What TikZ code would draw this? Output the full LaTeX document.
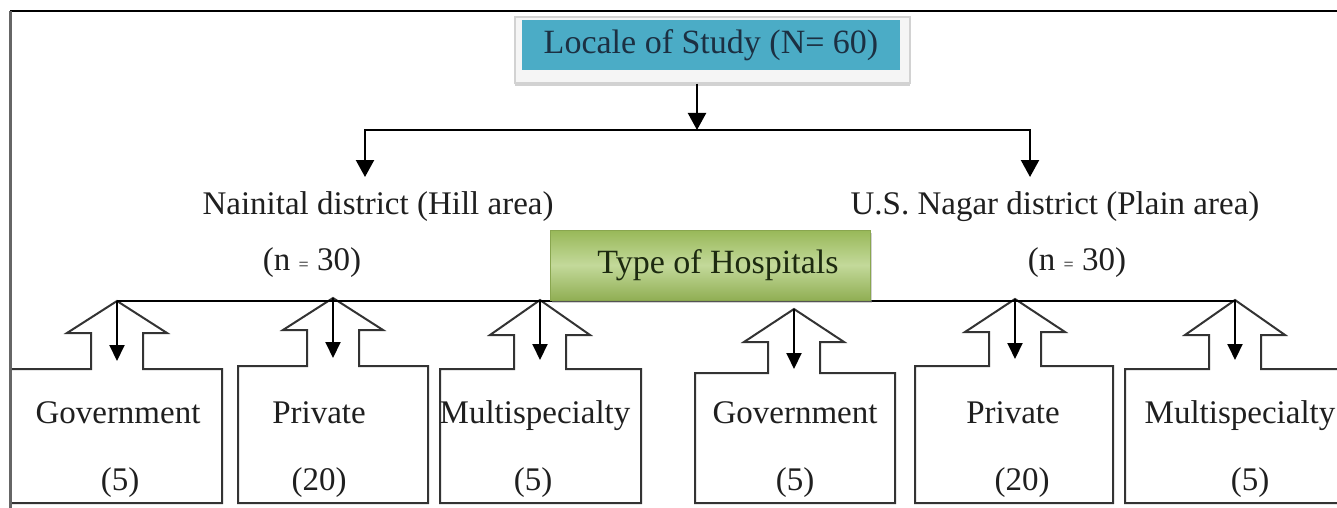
\documentclass[tikz,border=0pt]{standalone}
\usepackage{fontspec}
\setmainfont{Liberation Serif}
\usetikzlibrary{arrows.meta,shadows}
\definecolor{localeblue}{HTML}{4BACC6}
\definecolor{localetext}{HTML}{1C3042}
\definecolor{typegreen}{HTML}{98B858}
\definecolor{typelight}{HTML}{C3D99A}
\definecolor{typetext}{HTML}{1D2A10}
\tikzset{
  lbl/.style={anchor=base,text=black!88,inner sep=0pt,font=\fontsize{33}{40}\selectfont},
  blockline/.style={draw=black!80,line width=2pt,fill=white},
  droparrow/.style={-{Triangle[length=16pt,width=15pt]},line width=2pt},
  bigarrow/.style={-{Triangle[length=17pt,width=18pt]},line width=2.2pt},
}
% box left, box right, box top, apex x, apex y, head base y
\newcommand{\hospblock}[6]{%
  \draw[blockline] (#1,503) -- (#1,#3) -- (#4-26,#3) -- (#4-26,#6) -- (#4-50,#6)
    -- (#4,#5) -- (#4+50,#6) -- (#4+26,#6) -- (#4+26,#3) -- (#2,#3) -- (#2,503) -- cycle;
  \draw[droparrow] (#4,#5) -- (#4,#5+60);
}

\begin{document}
\begin{tikzpicture}[x=1pt,y=-1pt,line join=miter]
  \useasboundingbox (0,0) rectangle (1337,508);
  \clip (0,0) rectangle (1337,508);

  \hospblock{10}{222}{369}{117}{301}{333}
  \hospblock{238}{428}{366}{333}{298}{330}
  \hospblock{440}{641}{369}{540}{300}{335}
  \hospblock{695}{895}{373}{794}{309}{342}
  \hospblock{915}{1113}{366}{1015}{299}{332}
  \hospblock{1125}{1345}{369}{1235}{300}{335}

  \foreach \x/\kind/\y/\num/\id in {118/Government/120/(5)/a, 319/Private/319/(20)/b,
      535/Multispecialty/533/(5)/c, 795/Government/795/(5)/d,
      1013/Private/1022/(20)/e, 1240/Multispecialty/1250/(5)/f} {
    \node[lbl] (kind\id) at (\x,423) {\kind};
    \node[lbl] (num\id) at (\y,490) {\num};
  }

  \draw[line width=2pt] (117,301) -- (1235,301);

  \node[draw=gray!35,line width=1.5pt,fill=gray!8,minimum width=395pt,minimum height=66pt,
    drop shadow={shadow xshift=0pt,shadow yshift=-3pt,fill=gray!70}] (localeframe) at (712.5,50) {};
  \node[fill=localeblue,minimum width=378pt,minimum height=50pt,text=localetext,
    font=\fontsize{34}{40}\selectfont] (locale) at (711,45) {Locale of Study (N= 60)};

  \coordinate (split) at (697,130);
  \coordinate (hilltip) at (365,177);
  \coordinate (plaintip) at (1030,177);
  \draw[bigarrow] (localeframe.south -| split) -- (split);
  \draw[bigarrow] (split) -| (hilltip);
  \draw[bigarrow] (split) -| (plaintip);

  \node[lbl] (hill) at (378,214) {Nainital district (Hill area)};
  \node[lbl] (hilln) at (312,270) {(n {\fontsize{18}{18}\selectfont=} 30)};
  \node[lbl] (plain) at (1055,214) {U.S. Nagar district (Plain area)};
  \node[lbl] (plainn) at (1077,270) {(n {\fontsize{18}{18}\selectfont=} 30)};

  \node[draw=typegreen!90!black,line width=1pt,top color=typegreen,bottom color=typegreen!95!black,
    middle color=typelight,minimum width=320pt,minimum height=70pt,text=typetext,
    font=\fontsize{34}{40}\selectfont,
    drop shadow={shadow xshift=2pt,shadow yshift=-3pt,fill=gray!70}] (types) at (710,265)
    {\hspace{16pt}Type of Hospitals};

  \draw[line width=2pt] (10,11) -- (1337,11);
  \draw[gray!80!black,line width=3pt] (10,11) -- (10,508);
\end{tikzpicture}
\end{document}
